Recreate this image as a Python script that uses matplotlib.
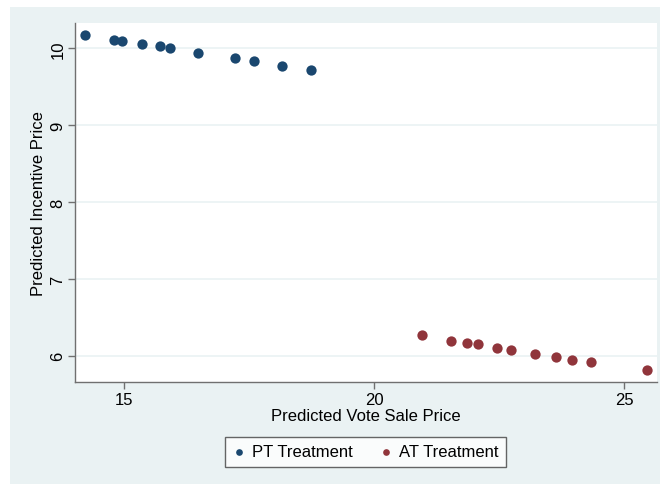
import matplotlib
matplotlib.use("Agg")
import matplotlib.pyplot as plt
from matplotlib.patches import Rectangle

pt_x = [14.22, 14.79, 14.96, 15.35, 15.72, 15.91, 16.47, 17.22, 17.59, 18.16, 18.73]
pt_y = [10.18, 10.11, 10.10, 10.06, 10.03, 10.00, 9.94, 9.87, 9.83, 9.77, 9.72]
at_x = [20.96, 21.53, 21.85, 22.07, 22.45, 22.74, 23.21, 23.64, 23.95, 24.33, 25.46]
at_y = [6.265, 6.195, 6.17, 6.155, 6.10, 6.07, 6.03, 5.98, 5.95, 5.92, 5.81]
x_ticks = [15, 20, 25]
y_ticks = [6, 7, 8, 9, 10]

plt.rcParams['font.family'] = ['Liberation Sans', 'DejaVu Sans']

W, H = 660, 485
fig = plt.figure(figsize=(6.6, 4.85), dpi=100, facecolor='white')
bg = Rectangle((10 / W, 0), 1 - 10 / W, 1 - 8 / H, transform=fig.transFigure,
               facecolor='#eaf2f3', edgecolor='none', zorder=-10)
fig.patches.append(bg)

ax = fig.add_axes([75 / W, 1 - 383 / H, (657 - 75) / W, (383 - 24) / H])
ax.set_facecolor('white')
ax.scatter(pt_x, pt_y, s=55, color='#1a476f', label='PT Treatment', zorder=3, linewidths=0)
ax.scatter(at_x, at_y, s=55, color='#90353b', label='AT Treatment', zorder=3, linewidths=0)

ax.set_xlim(14.02, 25.66)
ax.set_ylim(5.66, 10.33)
ax.set_xticks(x_ticks)
ax.set_yticks(y_ticks)
ax.set_yticklabels([str(v) for v in y_ticks], rotation=90, va='center')
ax.grid(axis='y', color='#eaf2f3', linewidth=1.2)
ax.set_axisbelow(True)
for s in ['top', 'right']:
    ax.spines[s].set_visible(False)
for s in ['left', 'bottom']:
    ax.spines[s].set_color('#707070')
    ax.spines[s].set_linewidth(1.0)
ax.tick_params(axis='both', colors='#707070', labelcolor='black', labelsize=12, length=5, width=1.0, pad=2)
ax.set_xlabel('Predicted Vote Sale Price', fontsize=12, labelpad=1)
ax.set_ylabel('Predicted Incentive Price', fontsize=12, labelpad=3)

leg = fig.legend(loc='center', bbox_to_anchor=(365.5 / W, 1 - 453 / H), ncol=2,
                 frameon=True, fancybox=False, fontsize=12, handletextpad=0.4,
                 columnspacing=1.6, markerscale=0.65, borderpad=0.45, handlelength=0.8)
leg.get_frame().set_edgecolor('#404040')
leg.get_frame().set_linewidth(1.0)
leg.get_frame().set_facecolor('white')

fig.savefig('out.png', dpi=100)
